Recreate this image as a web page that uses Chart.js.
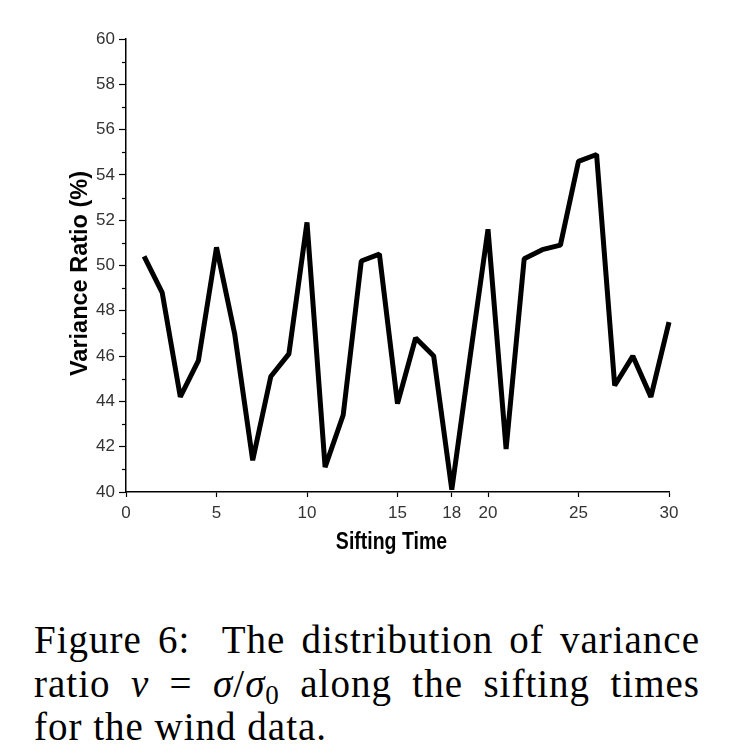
<!DOCTYPE html>
<html>
<head>
<meta charset="utf-8">
<script src="https://cdn.jsdelivr.net/npm/chart.js@4.4.1/dist/chart.umd.min.js"></script>
<style>
  html,body{margin:0;padding:0;background:#fff}
  #wrap{position:relative;width:741px;height:754px;overflow:hidden}
  #chart{position:absolute;left:0;top:0}
  #cap{position:absolute;left:34px;width:666px;top:618px;font-family:'Liberation Serif','Times New Roman',serif;font-size:39px;line-height:43.5px;letter-spacing:1px;color:#000}
  #cap div{white-space:nowrap}
  #cap .j{text-align:justify;text-align-last:justify;white-space:normal}
  #cap sub{font-size:27px;vertical-align:-7px;line-height:0;font-style:normal}
</style>
</head>
<body>
<div id="wrap">
  <canvas id="chart" width="741" height="600"></canvas>
  <div id="cap">
    <div class="j">Figure 6:&nbsp; The distribution of variance</div>
    <div class="j">ratio <i>ν</i> = <i>σ</i>/<i>σ</i><sub>0</sub> along the sifting times</div>
    <div>for the wind data.</div>
  </div>
</div>
<script>
// sifting time vs variance ratio (%)
const siftTimes=[1,2,3,4,5,6,7,8,9,10,11,12,13,14,15,16,17,18,19,20,21,22,23,24,25,26,27,28,29,30];
const varianceRatio=[50.4,48.8,44.2,45.8,50.8,47.0,41.4,45.1,46.1,51.9,41.1,43.4,50.2,50.5,43.9,46.8,46.0,40.1,45.9,51.6,41.9,50.3,50.7,50.9,54.6,54.9,44.7,46.0,44.2,47.5];
const xTickValues=[0,5,10,15,18,20,25,30];
const yMin=40,yMax=60,yStep=2,yMinorStep=1;

const tickFont={family:"'Liberation Sans',Arial,sans-serif",size:17};
const titleFont={family:"'Liberation Sans',Arial,sans-serif",size:23.5,weight:'bold'};

// the original's axis titles sit a little off-centre and the x one is squeezed
function tweakTitle(s,sx,dx,dy){
  if(s._tweaked)return;s._tweaked=true;
  const orig=s.drawTitle.bind(s);
  s.drawTitle=function(){
    const ctx=this.ctx,cx=(this.left+this.right)/2;
    ctx.save();ctx.translate(cx+dx,dy);ctx.scale(sx,1);ctx.translate(-cx,0);orig();ctx.restore();
  };
}

// short minor ticks on the y axis at the odd values
const minorTicks={id:'minorTicks',afterDraw(chart){
  const s=chart.scales.y,ctx=chart.ctx;
  ctx.save();ctx.strokeStyle='#000';ctx.lineWidth=1.2;
  for(let v=yMin+yMinorStep;v<yMax;v+=yStep){
    const py=Math.round(s.getPixelForValue(v))+0.5;
    ctx.beginPath();ctx.moveTo(s.right-4,py);ctx.lineTo(s.right,py);ctx.stroke();
  }
  ctx.restore();
}};

new Chart(document.getElementById('chart'),{
  type:'line',
  data:{datasets:[{
    data:siftTimes.map((t,i)=>({x:t,y:varianceRatio[i]})),
    borderColor:'#000',borderWidth:5,pointRadius:0,tension:0,
    borderJoinStyle:'bevel',borderCapStyle:'butt',clip:false
  }]},
  options:{
    responsive:false,animation:false,devicePixelRatio:1,
    layout:{padding:{left:0,right:72,top:39,bottom:0}},
    plugins:{legend:{display:false},tooltip:{enabled:false}},
    scales:{
      x:{type:'linear',min:0,max:30,
        afterBuildTicks:s=>{s.ticks=xTickValues.map(v=>({value:v}));},
        afterFit:s=>{s.height=108;tweakTitle(s,0.83,-6,0);},
        grid:{drawOnChartArea:false,tickLength:5,tickColor:'#000',tickWidth:1.2},
        border:{color:'#000',width:1.5},
        ticks:{color:'#333',font:tickFont,padding:6,maxRotation:0,autoSkip:false},
        title:{display:true,text:'Sifting Time',color:'#000',font:titleFont,padding:{top:0,bottom:43}}
      },
      y:{min:yMin,max:yMax,
        afterFit:s=>{s.width=126;tweakTitle(s,1,0,8);},
        grid:{drawOnChartArea:false,tickLength:7,tickColor:'#000',tickWidth:1.2},
        border:{color:'#000',width:1.5},
        ticks:{stepSize:yStep,color:'#333',font:tickFont,padding:4},
        title:{display:true,text:'Variance Ratio (%)',color:'#000',font:titleFont,padding:{top:66,bottom:0}}
      }
    }
  },
  plugins:[minorTicks]
});
</script>
</body>
</html>
